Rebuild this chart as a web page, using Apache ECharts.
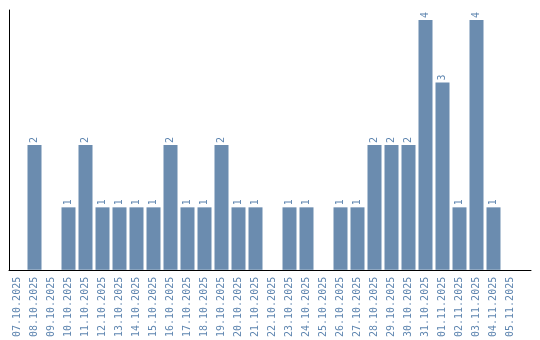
<!DOCTYPE html>
<html><head><meta charset="utf-8">
<script src="https://cdn.jsdelivr.net/npm/echarts@6/dist/echarts.min.js"></script>
<style>html,body{margin:0;padding:0;background:#fff}#c{width:540px;height:340px}</style>
</head><body><div id="c"></div>
<script>
const categories = ["07.10.2025","08.10.2025","09.10.2025","10.10.2025","11.10.2025","12.10.2025","13.10.2025","14.10.2025","15.10.2025","16.10.2025","17.10.2025","18.10.2025","19.10.2025","20.10.2025","21.10.2025","22.10.2025","23.10.2025","24.10.2025","25.10.2025","26.10.2025","27.10.2025","28.10.2025","29.10.2025","30.10.2025","31.10.2025","01.11.2025","02.11.2025","03.11.2025","04.11.2025","05.11.2025"];
const values = [0,2,0,1,2,1,1,1,1,2,1,1,2,1,1,0,1,1,0,1,1,2,2,2,4,3,1,4,1,0];

const chart = echarts.init(document.getElementById('c'), null, {renderer:'canvas'});
const labelColor = '#5f86b0';
chart.setOption({
  animation: false,
  grid: [
    {left: 9, top: 10, width: 510, height: 260, containLabel: false},
    {left: 9, top: 10, width: 522, height: 260, containLabel: false}
  ],
  xAxis: [
    {type: 'category', gridIndex: 0, data: categories,
     axisLine: {show: false}, axisTick: {show: false},
     axisLabel: {rotate: 90, interval: 0, color: labelColor, fontFamily: 'DejaVu Sans Mono', fontSize: 10, margin: 7}},
    {type: 'value', gridIndex: 1, min: 0, max: 1, axisLine: {show: true, lineStyle: {color: '#000', width: 1}},
     axisTick: {show: false}, axisLabel: {show: false}, splitLine: {show: false}}
  ],
  yAxis: [
    {type: 'value', gridIndex: 0, min: 0, max: 4.16, axisLine: {show: true, lineStyle: {color: '#000', width: 1}},
     axisTick: {show: false}, axisLabel: {show: false}, splitLine: {show: false}},
    {type: 'value', gridIndex: 1, min: 0, max: 1, show: false}
  ],
  series: [{
    type: 'bar', xAxisIndex: 0, yAxisIndex: 0, data: values.map(v => v === 0 ? null : v),
    barWidth: 14,
    itemStyle: {color: '#6b8caf'},
    label: {show: true, position: 'top', rotate: 90, align: 'left', verticalAlign: 'middle', distance: 2,
      color: labelColor, fontFamily: 'DejaVu Sans Mono', fontSize: 10}
  }]
});
</script></body></html>
